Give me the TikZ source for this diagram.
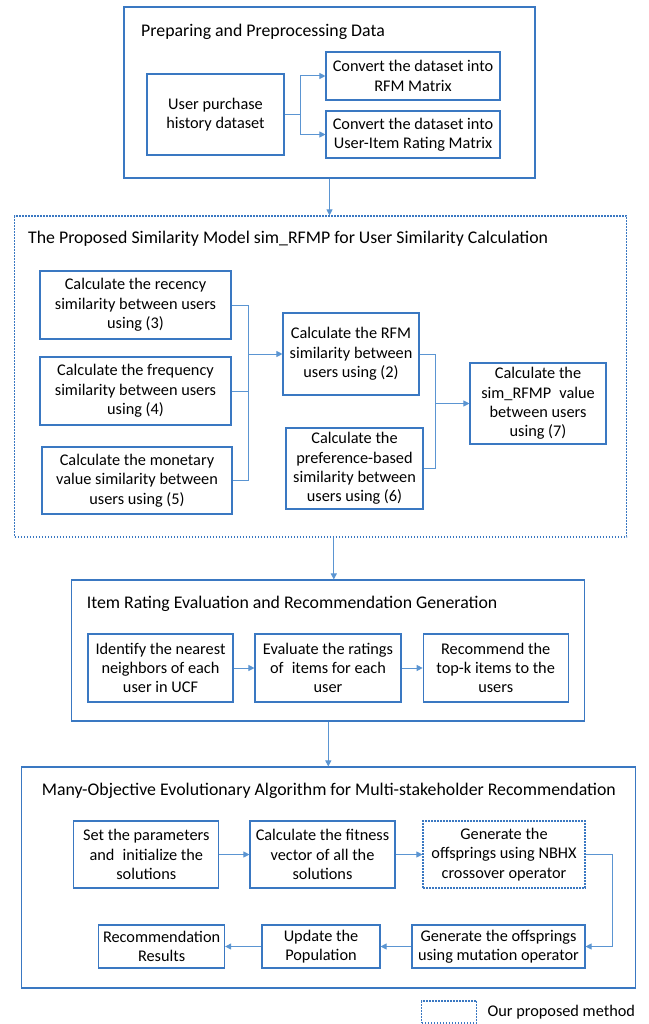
\documentclass[tikz,border=0pt]{standalone}
\usepackage{fontspec}
\setmainfont{Carlito}
\usetikzlibrary{arrows.meta,positioning}

\definecolor{edgeblue}{HTML}{3A78C2}
\definecolor{wireblue}{HTML}{5B95D2}

\begin{document}
\begin{tikzpicture}[
  x=1pt, y=-1pt,
  box/.style={draw=edgeblue, line width=1.1pt, align=center, inner sep=2pt,
    font=\fontsize{16.3}{19.3}\selectfont},
  dbox/.style={box, dash pattern=on 1.6pt off 1.4pt},
  grp/.style={draw=edgeblue, line width=1.1pt, inner sep=0pt},
  dgrp/.style={grp, dash pattern=on 1.6pt off 1.4pt},
  ttl/.style={anchor=west, inner sep=0pt, font=\fontsize{17.8}{21}\selectfont},
  wire/.style={draw=wireblue, line width=1pt},
  flow/.style={wire, -{Triangle[length=6pt, width=6pt]}}
]
\useasboundingbox (0,0) rectangle (648,1024);

% preparing and preprocessing
\node[grp, minimum width=411, minimum height=171] (prep) at (329.5,92.5) {};
\node[ttl] (prepttl) at (141,32) {Preparing and Preprocessing Data};
\node[box, minimum width=137, minimum height=81] (hist) at (215.5,114.5) {User purchase\\history dataset};
\node[box, minimum width=174, minimum height=48] (rfmmat) at (413,76) {Convert the dataset into\\RFM Matrix};
\node[box, minimum width=174, minimum height=47] (uimat) at (413,134.5) {Convert the dataset into\\User-Item Rating Matrix};
\coordinate (split) at (300,114.5);
\draw[wire] (hist.east) -- (split);
\draw[flow] (split) |- (rfmmat.west);
\draw[flow] (split) |- (uimat.west);

% similarity model
\node[dgrp, minimum width=612, minimum height=321] (simm) at (320.8,376.5) {};
\node[ttl] (simttl) at (28,239) {The Proposed Similarity Model sim\_RFMP for User Similarity Calculation};
\node[box, minimum width=191, minimum height=68] (rec) at (135.5,305) {Calculate the recency\\similarity between users\\using (3)};
\node[box, minimum width=191, minimum height=68] (freq) at (135.5,391) {Calculate the frequency\\similarity between users\\using (4)};
\node[box, minimum width=190, minimum height=67] (mon) at (137,480.5) {Calculate the monetary\\value similarity between\\users using (5)};
\node[box, minimum width=136, minimum height=82] (rfmsim) at (351,354) {Calculate the RFM\\similarity between\\users using (2)};
\node[box, minimum width=137, minimum height=81] (prefsim) at (354.5,468.5) {Calculate the\\preference-based\\similarity between\\users using (6)};
\node[box, minimum width=136, minimum height=81] (rfmp) at (538,403.5) {Calculate the\\sim\_RFMP\enspace value\\between users\\using (7)};
\coordinate (joinA) at (248.5,354);
\coordinate (joinB) at (435,403.5);
\draw[wire] (rec.east) -| (joinA);
\draw[wire] (freq.east) -| (joinA);
\draw[wire] (mon.east) -| (joinA);
\draw[flow] (joinA) -- (rfmsim.west);
\draw[wire] (rfmsim.east) -| (joinB);
\draw[wire] (prefsim.east) -| (joinB);
\draw[flow] (joinB) -- (rfmp.west);

% rating evaluation
\node[grp, minimum width=513, minimum height=141] (rate) at (328.3,650.5) {};
\node[ttl] (ratettl) at (86.6,604) {Item Rating Evaluation and Recommendation Generation};
\node[box, minimum width=145, minimum height=68] (near) at (160.5,668) {Identify the nearest\\neighbors of each\\user in UCF};
\node[box, minimum width=146, minimum height=68] (eval) at (328,668) {Evaluate the ratings\\of\enspace items for each\\user};
\node[box, minimum width=145, minimum height=68] (topk) at (495.7,668) {Recommend the\\top-k items to the\\users};
\draw[flow] (near) -- (eval);
\draw[flow] (eval) -- (topk);

% evolutionary algorithm
\node[grp, minimum width=614, minimum height=221] (moea) at (328.5,877.5) {};
\node[ttl] (moeattl) at (41.6,791) {Many-Objective Evolutionary Algorithm for Multi-stakeholder Recommendation};
\node[box, minimum width=145, minimum height=67] (init) at (146.3,854.5) {Set the parameters\\and\enspace initialize the\\solutions};
\node[box, minimum width=145, minimum height=67] (fit) at (322.5,854.5) {Calculate the fitness\\vector of all the\\solutions};
\node[dbox, minimum width=162, minimum height=67] (nbhx) at (504,854.5) {Generate the\\offsprings using NBHX\\crossover operator};
\node[box, minimum width=173, minimum height=43] (mut) at (498.5,946.5) {Generate the offsprings\\using mutation operator};
\node[box, minimum width=118, minimum height=43] (upd) at (321,946.5) {Update the\\Population};
\node[box, minimum width=126, minimum height=43] (res) at (161.6,946.5) {Recommendation\\Results};
\coordinate (turn) at (612,854.5);
\draw[flow] (init) -- (fit);
\draw[flow] (fit) -- (nbhx);
\draw[flow] (nbhx.east) -- (turn) |- (mut.east);
\draw[flow] (mut) -- (upd);
\draw[flow] (upd) -- (res);

% stage to stage
\draw[flow] (prep.south) -- (prep.south |- simm.north);
\draw[flow] ([xshift=5.5pt]rate.north |- simm.south) -- ([xshift=5.5pt]rate.north);
\draw[flow] (rate.south) -- (rate.south |- moea.north);

% legend
\node[dbox, minimum width=55, minimum height=22] (key) at (449.3,1012) {};
\node[ttl, font=\fontsize{16.3}{19.3}\selectfont, right=10pt of key] (keytxt) {Our proposed method};
\end{tikzpicture}
\end{document}
